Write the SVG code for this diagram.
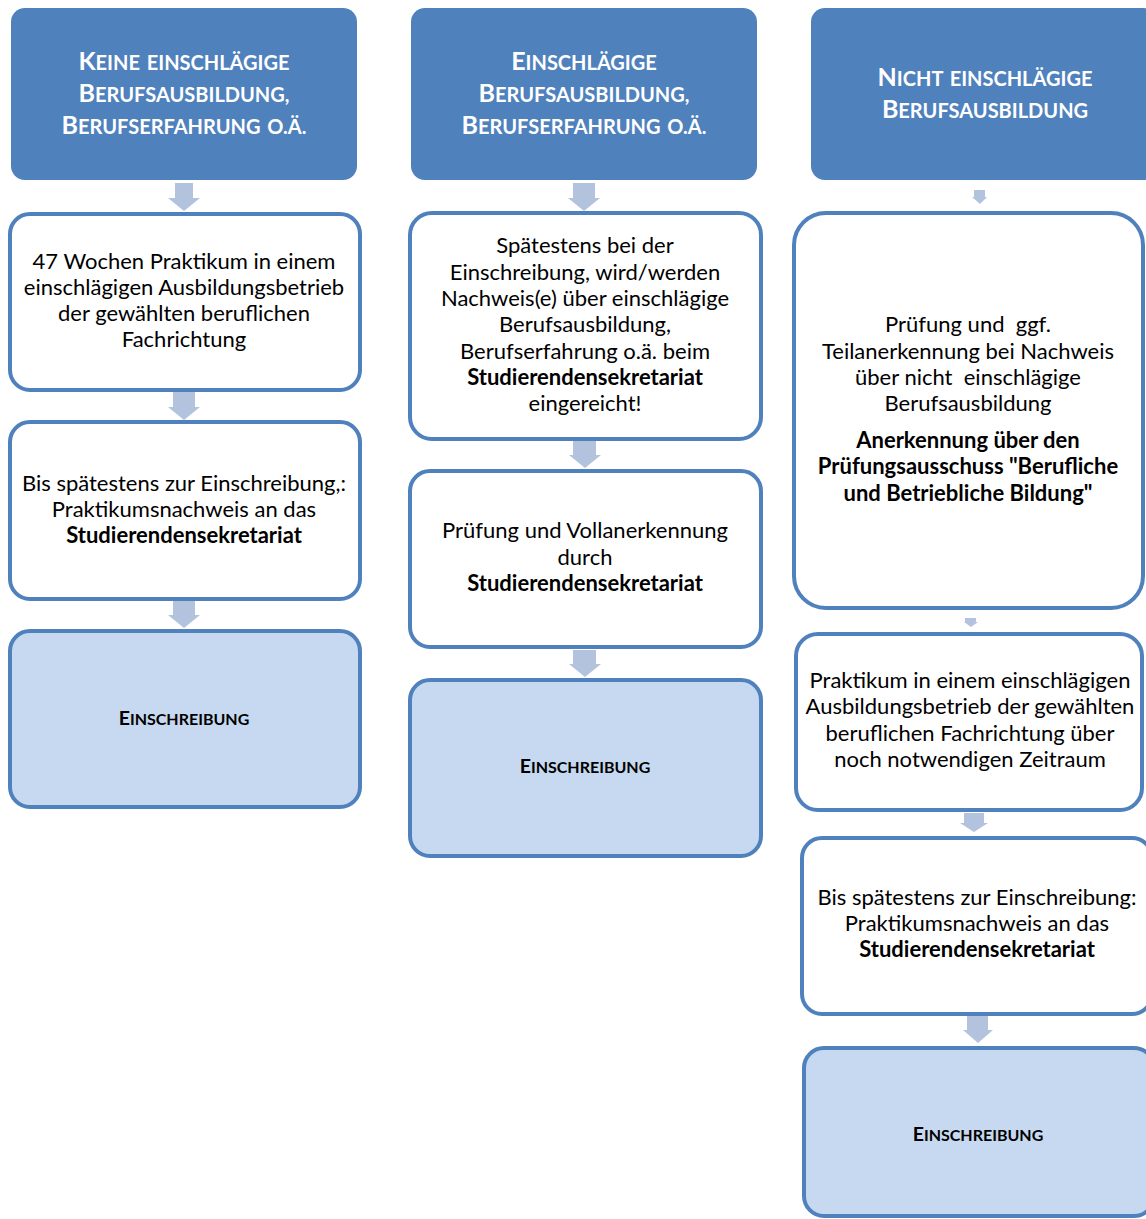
<svg xmlns="http://www.w3.org/2000/svg" width="1146" height="1219" viewBox="0 0 1146 1219">
<style>
.hdr{fill:#4F81BD}
.box{fill:#FFFFFF;stroke:#4F81BD;stroke-width:4}
.fin{fill:#C6D9F1;stroke:#4F81BD;stroke-width:4}
.arr{fill:#B3C3DE}
text{font-family:Lato,"Open Sans","Liberation Sans",sans-serif;text-anchor:middle}
.ht{fill:#FFFFFF;font-weight:bold;font-size:20px;word-spacing:2px}
.hc{font-size:25px}
.bt{fill:#000000;font-size:22px}
.b{font-weight:bold}
.et{fill:#000000;font-weight:bold;font-size:16px}
.ec{font-size:19.5px}
</style>
<rect width="1146" height="1219" fill="#FFFFFF"/>
<g id="connectors">
<path class="arr" d="M175,183H193V198H200L184,211L168,198H175Z"/>
<path class="arr" d="M173,392H195V407H200L184,420L168,407H173Z"/>
<path class="arr" d="M173,601H195V615H200L184,628L168,615H173Z"/>
<path class="arr" d="M573,183H595V198H600L584,211L568,198H573Z"/>
<path class="arr" d="M573,441H596V455H601L585,468L569,455H573Z"/>
<path class="arr" d="M573,650H596V664H601L585,677L569,664H573Z"/>
<path class="arr" d="M974,190H985V197H987L980,204L972,197H974Z"/>
<path class="arr" d="M965,618H976V622H978L971,627L964,622H965Z"/>
<path class="arr" d="M964,813H984V823H988L974,832L960,823H964Z"/>
<path class="arr" d="M967,1015H988V1030H993L978,1043L963,1030H967Z"/>
</g>
<g id="h1"><rect class="hdr" x="11" y="8" width="346" height="172" rx="14"/>
<text class="ht"><tspan x="184" y="70"><tspan class="hc">K</tspan>EINE EINSCHLÄGIGE</tspan><tspan x="184" y="102"><tspan class="hc">B</tspan>ERUFSAUSBILDUNG,</tspan><tspan x="184" y="134"><tspan class="hc">B</tspan>ERUFSERFAHRUNG O.Ä.</tspan></text></g>
<g id="h2"><rect class="hdr" x="411" y="8" width="346" height="172" rx="14"/>
<text class="ht"><tspan x="584" y="70"><tspan class="hc">E</tspan>INSCHLÄGIGE</tspan><tspan x="584" y="102"><tspan class="hc">B</tspan>ERUFSAUSBILDUNG,</tspan><tspan x="584" y="134"><tspan class="hc">B</tspan>ERUFSERFAHRUNG O.Ä.</tspan></text></g>
<g id="h3"><rect class="hdr" x="811" y="8" width="346" height="172" rx="14"/>
<text class="ht"><tspan x="985" y="86"><tspan class="hc">N</tspan>ICHT EINSCHLÄGIGE</tspan><tspan x="985" y="118"><tspan class="hc">B</tspan>ERUFSAUSBILDUNG</tspan></text></g>
<g id="c1b1"><rect class="box" x="10" y="214" width="350" height="176" rx="20"/>
<text class="bt"><tspan x="184" y="269">47 Wochen Praktikum in einem</tspan><tspan x="184" y="295">einschlägigen Ausbildungsbetrieb</tspan><tspan x="184" y="321">der gewählten beruflichen</tspan><tspan x="184" y="347">Fachrichtung</tspan></text></g>
<g id="c1b2"><rect class="box" x="10" y="422" width="350" height="177" rx="20"/>
<text class="bt"><tspan x="184" y="491">Bis spätestens zur Einschreibung,:</tspan><tspan x="184" y="517">Praktikumsnachweis an das</tspan><tspan x="184" y="543" class="b">Studierendensekretariat</tspan></text></g>
<g id="c1e"><rect class="fin" x="10" y="631" width="350" height="176" rx="20"/>
<text class="et" x="184" y="725"><tspan class="ec">E</tspan>INSCHREIBUNG</text></g>
<g id="c2b1"><rect class="box" x="410" y="213" width="351" height="226" rx="22"/>
<text class="bt"><tspan x="585" y="253">Spätestens bei der</tspan><tspan x="585" y="280">Einschreibung, wird/werden</tspan><tspan x="585" y="306">Nachweis(e) über einschlägige</tspan><tspan x="585" y="332">Berufsausbildung,</tspan><tspan x="585" y="359">Berufserfahrung o.ä. beim</tspan><tspan x="585" y="385" class="b">Studierendensekretariat</tspan><tspan x="585" y="411">eingereicht!</tspan></text></g>
<g id="c2b2"><rect class="box" x="410" y="471" width="351" height="176" rx="20"/>
<text class="bt"><tspan x="585" y="538">Prüfung und Vollanerkennung</tspan><tspan x="585" y="565">durch</tspan><tspan x="585" y="591" class="b">Studierendensekretariat</tspan></text></g>
<g id="c2e"><rect class="fin" x="410" y="680" width="351" height="176" rx="20"/>
<text class="et" x="585" y="773"><tspan class="ec">E</tspan>INSCHREIBUNG</text></g>
<g id="c3b1"><rect class="box" x="794" y="213" width="349" height="395" rx="32"/>
<text class="bt" style="white-space:pre"><tspan x="968" y="332">Prüfung und  ggf.</tspan><tspan x="968" y="359">Teilanerkennung bei Nachweis</tspan><tspan x="968" y="385">über nicht  einschlägige</tspan><tspan x="968" y="411">Berufsausbildung</tspan><tspan x="968" y="448" class="b">Anerkennung über den</tspan><tspan x="968" y="474" class="b">Prüfungsausschuss "Berufliche</tspan><tspan x="968" y="501" class="b">und Betriebliche Bildung"</tspan></text></g>
<g id="c3b2"><rect class="box" x="796" y="634" width="346" height="176" rx="22"/>
<text class="bt"><tspan x="970" y="688">Praktikum in einem einschlägigen</tspan><tspan x="970" y="714">Ausbildungsbetrieb der gewählten</tspan><tspan x="970" y="741">beruflichen Fachrichtung über</tspan><tspan x="970" y="767">noch notwendigen Zeitraum</tspan></text></g>
<g id="c3b3"><rect class="box" x="802" y="838" width="350" height="176" rx="20"/>
<text class="bt"><tspan x="977" y="905">Bis spätestens zur Einschreibung:</tspan><tspan x="977" y="931">Praktikumsnachweis an das</tspan><tspan x="977" y="957" class="b">Studierendensekretariat</tspan></text></g>
<g id="c3e"><rect class="fin" x="804" y="1048" width="350" height="168" rx="20"/>
<text class="et" x="978" y="1141"><tspan class="ec">E</tspan>INSCHREIBUNG</text></g>
</svg>
